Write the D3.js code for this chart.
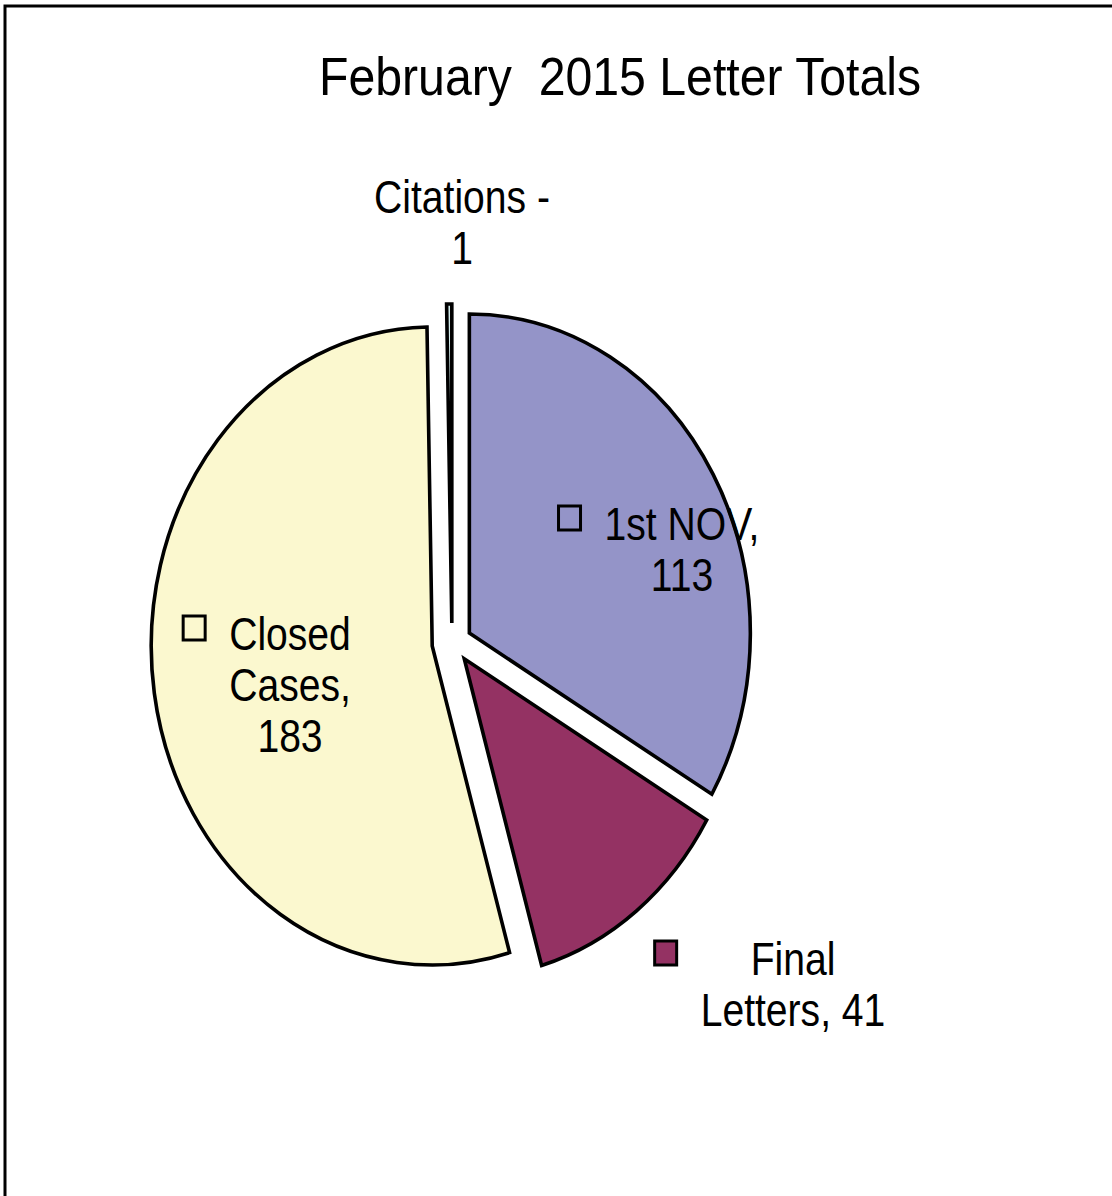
<!DOCTYPE html>
<html>
<head>
<meta charset="utf-8">
<script src="https://cdn.jsdelivr.net/npm/d3@7"></script>
<style>
  body { margin: 0; background: #fff; }
  svg { display: block; }
  text { font-family: "Liberation Sans", Arial, sans-serif; fill: #000; }
</style>
</head>
<body>
<svg id="chart" width="1112" height="1196"></svg>
<script>
// data, clockwise from 12 o'clock
const categories = ['1st NOV', 'Final Letters', 'Closed Cases', 'Citations'];
const values = [113, 41, 183, 1];
const colors = ['#9494c8', '#943263', '#fbf8cf', '#d3ecec'];
const separators = [',', ',', ',', ' -'];
const lineBreaks = [[2], [1], [1, 2], [2]]; // word index where a new line starts
const showKey = [true, true, true, false];

// layout only: label block centre x, first baseline y
const labelAnchor = [[682, 540], [793, 975], [290, 650], [462, 213]];

const W = 1112, H = 1196;
const cx = 452, cy = 643, rx = 281, ry = 319, explode = 20;
const sx = 0.85; // narrow text look

const svg = d3.select('#chart');

svg.append('rect')
  .attr('x', 5).attr('y', 6)
  .attr('width', W + 200).attr('height', H + 200)
  .attr('fill', 'none').attr('stroke', '#000').attr('stroke-width', 3);

svg.append('g')
  .attr('transform', `translate(620,95) scale(0.91,1)`)
  .append('text')
  .attr('text-anchor', 'middle')
  .attr('font-size', 53)
  .attr('xml:space', 'preserve')
  .text('February  2015 Letter Totals');

const pie = d3.pie().sort(null).value((d) => d)(values);
const arc = d3.arc().innerRadius(0).outerRadius(ry);

const gPie = svg.append('g');
pie.forEach((p, i) => {
  const mid = (p.startAngle + p.endAngle) / 2;
  const ax = cx + explode * Math.sin(mid);
  const ay = cy - explode * Math.cos(mid);
  gPie.append('path')
    .attr('d', arc(p))
    .attr('transform', `translate(${ax},${ay}) scale(${rx / ry},1)`)
    .attr('fill', colors[i])
    .attr('stroke', '#000')
    .attr('stroke-width', 3.6)
    .attr('vector-effect', 'non-scaling-stroke');
});

function labelLines(i) {
  const words = `${categories[i]}${separators[i]} ${values[i]}`.split(' ');
  const lines = [];
  let cur = [];
  words.forEach((w, k) => {
    if (lineBreaks[i].includes(k) && cur.length) { lines.push(cur.join(' ')); cur = []; }
    cur.push(w);
  });
  lines.push(cur.join(' '));
  return lines;
}

const gLab = svg.append('g');
categories.forEach((c, i) => {
  const [lx, ly] = labelAnchor[i];
  const g = gLab.append('g').attr('transform', `translate(${lx},${ly}) scale(${sx},1)`);
  let maxW = 0;
  labelLines(i).forEach((line, k) => {
    const t = g.append('text')
      .attr('text-anchor', 'middle')
      .attr('font-size', 46)
      .attr('y', k * 51)
      .text(line);
    maxW = Math.max(maxW, t.node().getComputedTextLength() * sx);
  });
  if (showKey[i]) {
    gLab.append('rect')
      .attr('x', lx - maxW / 2 - 24 - 22)
      .attr('y', ly - 34)
      .attr('width', 22).attr('height', 24)
      .attr('fill', colors[i])
      .attr('stroke', '#000').attr('stroke-width', 3);
  }
});
</script>
</body>
</html>
